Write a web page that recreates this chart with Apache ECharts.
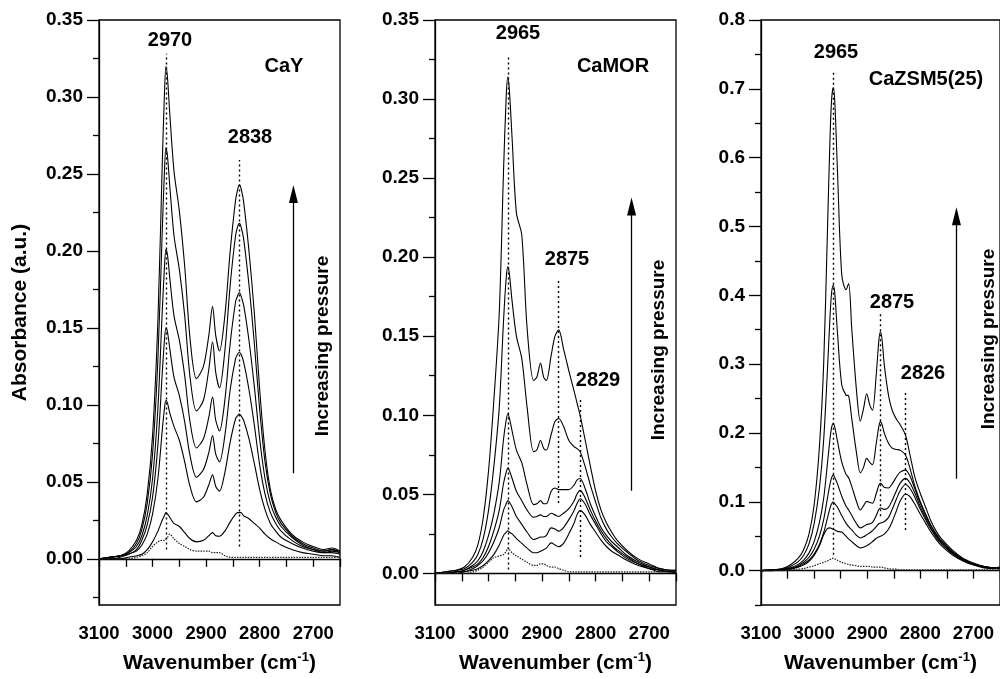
<!DOCTYPE html>
<html>
<head>
<meta charset="utf-8">
<script src="https://cdn.jsdelivr.net/npm/echarts@6/dist/echarts.min.js"></script>
<style>
html,body{margin:0;padding:0;background:#fff;}
#chart{width:1000px;height:679px;}
</style>
</head>
<body>
<div id="chart"></div>
<script>
// ---------- DATA ----------
const X_LABELS = [3100, 3000, 2900, 2800, 2700];
const X_TICKS = [3100, 3050, 3000, 2950, 2900, 2850, 2800, 2750, 2700, 2650];

// Panel 1: CaY
const CAY_WN = [3100,3080,3060,3045,3030,3020,3010,3000,2990,2982, 2978,2975,2972,2968,2960,2950,2940,2930,2918,2905, 2895,2888,2882,2875,2865,2855,2845,2841,2838,2835, 2830,2820,2810,2800,2790,2780,2770,2760,2740,2720, 2700,2680,2665,2650];
const CAY_6 = [0,0.001,0.002,0.005,0.012,0.022,0.042,0.080,0.155,0.255, 0.300,0.320,0.312,0.290,0.252,0.226,0.190,0.143,0.117,0.125, 0.145,0.164,0.145,0.135,0.158,0.200,0.233,0.240,0.243,0.241, 0.232,0.200,0.160,0.110,0.070,0.045,0.032,0.025,0.016,0.011, 0.008,0.006,0.007,0.005];
const CAY_5 = [0,0.001,0.002,0.004,0.010,0.019,0.036,0.068,0.130,0.212, 0.250,0.267,0.261,0.243,0.210,0.188,0.158,0.118,0.096,0.103, 0.123,0.141,0.121,0.111,0.135,0.178,0.210,0.216,0.218,0.216, 0.208,0.178,0.140,0.097,0.063,0.042,0.030,0.023,0.015,0.010, 0.007,0.005,0.006,0.005];
const CAY_4 = [0,0.001,0.002,0.004,0.008,0.015,0.028,0.052,0.098,0.160, 0.188,0.201,0.197,0.183,0.158,0.142,0.119,0.089,0.072,0.078, 0.092,0.105,0.090,0.083,0.103,0.140,0.167,0.171,0.173,0.171, 0.165,0.142,0.112,0.078,0.052,0.036,0.027,0.021,0.014,0.009, 0.006,0.005,0.006,0.004];
const CAY_3 = [0,0.001,0.002,0.003,0.006,0.012,0.022,0.040,0.074,0.120, 0.141,0.150,0.147,0.137,0.118,0.106,0.089,0.067,0.053,0.058, 0.069,0.080,0.068,0.063,0.080,0.110,0.130,0.133,0.134,0.133, 0.128,0.110,0.087,0.061,0.042,0.030,0.023,0.018,0.012,0.008, 0.006,0.004,0.005,0.004];
const CAY_2 = [0,0,0.001,0.003,0.005,0.009,0.016,0.029,0.052,0.083, 0.097,0.103,0.101,0.095,0.086,0.077,0.063,0.047,0.037,0.040, 0.048,0.0545,0.047,0.044,0.056,0.076,0.091,0.093,0.094,0.093, 0.090,0.078,0.062,0.045,0.032,0.023,0.018,0.014,0.010,0.007, 0.005,0.004,0.004,0.003];
const CAY_1 = [0,0,0,0.001,0.002,0.003,0.006,0.011,0.018,0.025, 0.028,0.030,0.029,0.027,0.023,0.021,0.017,0.013,0.011,0.012, 0.015,0.017,0.015,0.0147,0.018,0.024,0.029,0.030,0.030,0.030, 0.028,0.026,0.023,0.020,0.016,0.013,0.011,0.009,0.006,0.004, 0.003,0.002,0.002,0.001];
const CAY_REF = [0,0,0,0,0.001,0.002,0.004,0.008,0.011,0.012, 0.012,0.013,0.014,0.016,0.013,0.010,0.008,0.006,0.005,0.005, 0.005,0.004,0.004,0.004,0.002,0.001,0.001,0.001,0.001,0.001, 0.001,0.001,0.001,0.001,0.001,0.001,0.001,0.001,0.001,0.001, 0.001,0.001,0.001,0.001];
const CAY_Y_LABELS = [0, 0.05, 0.10, 0.15, 0.20, 0.25, 0.30, 0.35];
const CAY_Y_MINOR = [-0.025, 0.025, 0.075, 0.125, 0.175, 0.225, 0.275, 0.325];
// dotted guide lines: [wavenumber, from, to]
const CAY_GUIDES = [[2975, 0.006, 0.328], [2838, 0.008, 0.259]];
const CAY_ARROW = [2737, 0.0556, 0.237];

// Panel 2: CaMOR
const MOR_WN = [3100,3080,3060,3045,3030,3020,3010,3000,2990,2980, 2972,2967,2964,2961,2956,2948,2938,2928,2916,2910, 2903,2897,2892,2883,2876,2869,2860,2850,2840,2835, 2829,2820,2810,2800,2790,2780,2770,2760,2740,2720, 2700,2680,2660,2650];
const MOR_6 = [0,0.001,0.002,0.004,0.010,0.018,0.035,0.065,0.110,0.165, 0.255,0.302,0.314,0.305,0.275,0.228,0.214,0.155,0.122,0.124, 0.133,0.124,0.122,0.138,0.150,0.154,0.142,0.128,0.115,0.108, 0.100,0.085,0.068,0.052,0.040,0.032,0.026,0.021,0.014,0.009, 0.006,0.003,0.002,0.002];
const MOR_5 = [0,0.001,0.002,0.003,0.007,0.012,0.022,0.040,0.068,0.105, 0.160,0.187,0.194,0.189,0.172,0.150,0.136,0.105,0.077,0.078, 0.084,0.079,0.078,0.088,0.096,0.098,0.093,0.084,0.080,0.079, 0.077,0.068,0.056,0.045,0.035,0.028,0.023,0.019,0.013,0.008, 0.005,0.003,0.002,0.002];
const MOR_4 = [0,0,0.001,0.002,0.005,0.008,0.014,0.024,0.038,0.058, 0.085,0.097,0.101,0.098,0.090,0.078,0.070,0.056,0.0435,0.044, 0.046,0.044,0.044,0.052,0.054,0.053,0.053,0.053,0.056,0.059, 0.060,0.054,0.044,0.036,0.029,0.024,0.020,0.017,0.011,0.007, 0.004,0.002,0.001,0.001];
const MOR_3 = [0,0,0.001,0.002,0.004,0.006,0.010,0.017,0.027,0.040, 0.057,0.064,0.0666,0.065,0.060,0.052,0.046,0.040,0.0355,0.036, 0.037,0.036,0.036,0.038,0.037,0.036,0.038,0.041,0.046,0.050, 0.0525,0.048,0.040,0.033,0.027,0.022,0.018,0.015,0.010,0.006, 0.004,0.002,0.001,0.001];
const MOR_2 = [0,0,0.001,0.001,0.003,0.005,0.008,0.013,0.020,0.029, 0.040,0.044,0.046,0.045,0.042,0.036,0.031,0.026,0.0214,0.022, 0.023,0.023,0.024,0.0288,0.028,0.0267,0.029,0.034,0.040,0.044, 0.0472,0.044,0.037,0.031,0.025,0.020,0.017,0.014,0.009,0.006, 0.003,0.002,0.001,0.001];
const MOR_1 = [0,0,0,0.001,0.002,0.003,0.005,0.008,0.012,0.018, 0.024,0.026,0.027,0.026,0.025,0.022,0.019,0.016,0.013,0.013, 0.014,0.015,0.016,0.0193,0.018,0.0168,0.019,0.025,0.032,0.037, 0.0397,0.037,0.031,0.026,0.021,0.017,0.014,0.012,0.008,0.005, 0.003,0.001,0.001,0];
const MOR_REF = [0,0,0,0,0.001,0.002,0.004,0.007,0.010,0.011, 0.012,0.014,0.016,0.015,0.013,0.011,0.009,0.007,0.005,0.005, 0.006,0.006,0.005,0.004,0.004,0.003,0.002,0.001,0.001,0.001, 0.001,0.001,0.001,0.001,0.001,0.001,0.001,0.001,0.001,0.001, 0.001,0.001,0.001,0.001];
const MOR_Y_LABELS = [0, 0.05, 0.10, 0.15, 0.20, 0.25, 0.30, 0.35];
const MOR_Y_MINOR = [0.025, 0.075, 0.125, 0.175, 0.225, 0.275, 0.325];
const MOR_GUIDES = [[2964, 0.0025, 0.327], [2869, 0.0445, 0.1866], [2828.5, 0.0103, 0.1096]];
const MOR_ARROW = [2733, 0.0523, 0.232];

// Panel 3: CaZSM5(25)
const ZSM_WN = [3100,3080,3060,3045,3030,3020,3010,3000,2990,2982, 2975,2970,2967,2964,2961,2956,2948,2940,2935,2929, 2920,2913,2907,2901,2895,2890,2883,2878,2875,2872, 2868,2860,2853,2845,2838,2828,2820,2810,2800,2790, 2780,2770,2760,2740,2720,2700,2680,2660,2650];
const ZSM_6 = [0,0.001,0.003,0.008,0.018,0.030,0.052,0.095,0.180,0.300, 0.490,0.630,0.685,0.702,0.680,0.580,0.430,0.408,0.417,0.350, 0.260,0.217,0.235,0.257,0.240,0.233,0.285,0.335,0.347,0.335, 0.300,0.255,0.233,0.220,0.212,0.197,0.170,0.135,0.112,0.092, 0.072,0.057,0.046,0.030,0.018,0.011,0.006,0.004,0.005];
const ZSM_5 = [0,0.001,0.002,0.006,0.013,0.022,0.038,0.068,0.120,0.190, 0.290,0.370,0.404,0.4145,0.402,0.345,0.270,0.255,0.254,0.220, 0.170,0.142,0.150,0.163,0.157,0.154,0.185,0.210,0.2165,0.212, 0.200,0.185,0.178,0.176,0.175,0.168,0.150,0.122,0.100,0.082, 0.066,0.053,0.043,0.028,0.017,0.010,0.006,0.004,0.004];
const ZSM_4 = [0,0.001,0.002,0.004,0.009,0.015,0.025,0.042,0.070,0.105, 0.155,0.192,0.208,0.214,0.208,0.188,0.158,0.140,0.135,0.122, 0.100,0.088,0.094,0.1006,0.099,0.098,0.112,0.124,0.127,0.125, 0.121,0.120,0.126,0.136,0.143,0.146,0.138,0.118,0.098,0.081, 0.065,0.052,0.042,0.027,0.016,0.010,0.006,0.004,0.004];
const ZSM_3 = [0,0.001,0.002,0.003,0.007,0.012,0.019,0.031,0.050,0.074, 0.105,0.126,0.135,0.139,0.135,0.126,0.108,0.094,0.088,0.080, 0.068,0.062,0.064,0.067,0.068,0.070,0.080,0.089,0.091,0.090, 0.089,0.092,0.102,0.116,0.127,0.134,0.128,0.112,0.093,0.077, 0.062,0.050,0.040,0.026,0.016,0.009,0.005,0.004,0.004];
const ZSM_2 = [0,0.001,0.001,0.003,0.006,0.010,0.015,0.024,0.038,0.055, 0.076,0.091,0.097,0.0996,0.097,0.092,0.080,0.069,0.064,0.059, 0.051,0.0474,0.049,0.052,0.055,0.058,0.064,0.068,0.069,0.070, 0.071,0.077,0.089,0.104,0.116,0.125,0.120,0.106,0.089,0.074, 0.060,0.048,0.039,0.025,0.015,0.009,0.005,0.003,0.003];
const ZSM_1 = [0,0,0.001,0.002,0.005,0.008,0.013,0.022,0.036,0.052, 0.061,0.062,0.061,0.060,0.059,0.057,0.056,0.050,0.046,0.042, 0.036,0.033,0.034,0.036,0.039,0.042,0.047,0.049,0.050,0.051, 0.053,0.060,0.071,0.087,0.101,0.111,0.108,0.096,0.082,0.069, 0.056,0.045,0.036,0.023,0.014,0.008,0.004,0.003,0.003];
const ZSM_REF = [0,0,0,0.001,0.002,0.003,0.005,0.007,0.010,0.012, 0.014,0.016,0.017,0.018,0.017,0.015,0.012,0.010,0.009,0.008, 0.007,0.006,0.006,0.006,0.006,0.005,0.005,0.005,0.005,0.005, 0.004,0.003,0.002,0.002,0.001,0.001,0.001,0.001,0.001,0.001, 0.001,0.001,0.001,0.001,0.001,0.001,0.001,0.001,0.001];
const ZSM_Y_LABELS = [0, 0.1, 0.2, 0.3, 0.4, 0.5, 0.6, 0.7, 0.8];
const ZSM_Y_MINOR = [-0.05, 0.05, 0.15, 0.25, 0.35, 0.45, 0.55, 0.65, 0.75];
const ZSM_GUIDES = [[2964, 0.023, 0.726], [2875.7, 0.079, 0.3735], [2827.7, 0.059, 0.262]];
const ZSM_ARROW = [2732, 0.1333, 0.515];

// ---------- LAYOUT ----------
const FONT = '"Liberation Sans", Arial, Helvetica, sans-serif';
const panels = [
  {wn: CAY_WN, curves: [CAY_1, CAY_2, CAY_3, CAY_4, CAY_5, CAY_6], ref: CAY_REF, ymin: -0.03, ymax: 0.35,
   yl: CAY_Y_LABELS, ym: CAY_Y_MINOR, dig: 2, guides: CAY_GUIDES, arrow: CAY_ARROW,
   grid: {left: 99, top: 20, width: 241, height: 587}},
  {wn: MOR_WN, curves: [MOR_1, MOR_2, MOR_3, MOR_4, MOR_5, MOR_6], ref: MOR_REF, ymin: -0.02, ymax: 0.35,
   yl: MOR_Y_LABELS, ym: MOR_Y_MINOR, dig: 2, guides: MOR_GUIDES, arrow: MOR_ARROW,
   grid: {left: 435, top: 20, width: 241, height: 587}},
  {wn: ZSM_WN, curves: [ZSM_1, ZSM_2, ZSM_3, ZSM_4, ZSM_5, ZSM_6], ref: ZSM_REF, ymin: -0.05, ymax: 0.8,
   yl: ZSM_Y_LABELS, ym: ZSM_Y_MINOR, dig: 1, guides: ZSM_GUIDES, arrow: ZSM_ARROW,
   grid: {left: 761, top: 20, width: 241, height: 587}}
];

const texts = [
  {t: '2970', x: 170, y: 40}, {t: '2838', x: 250, y: 137}, {t: 'CaY', x: 284, y: 66},
  {t: '2965', x: 518, y: 33}, {t: '2875', x: 567, y: 259}, {t: '2829', x: 598, y: 380}, {t: 'CaMOR', x: 613, y: 66},
  {t: '2965', x: 836, y: 52}, {t: '2875', x: 892, y: 302}, {t: '2826', x: 923, y: 373}, {t: 'CaZSM5(25)', x: 926, y: 79}
];
const vtexts = [
  {t: 'Increasing pressure', x: 323, y: 346},
  {t: 'Increasing pressure', x: 659, y: 350},
  {t: 'Increasing pressure', x: 989, y: 339}
];

const black = '#000';
const grids = [], xAxes = [], yAxes = [], series = [];

panels.forEach((p, i) => {
  grids.push(Object.assign({show: true, borderColor: black, borderWidth: 1.3, backgroundColor: 'transparent'}, p.grid));
  xAxes.push({
    type: 'value', gridIndex: i, min: 2650, max: 3100, inverse: true,
    axisLine: {show: true, lineStyle: {color: black, width: 1.3}},
    axisTick: {show: true, customValues: X_TICKS, length: 8, inside: false, lineStyle: {color: black, width: 1.3}},
    axisLabel: {customValues: X_LABELS, margin: 19, color: black, fontFamily: FONT, fontWeight: 'bold', fontSize: 18.5,
      formatter: v => String(Math.round(v))},
    splitLine: {show: false},
    name: '{a|Wavenumber (cm}{s|-1}{a|)}', nameLocation: 'middle', nameGap: 46,
    nameTextStyle: {rich: {
      a: {fontFamily: FONT, fontWeight: 'bold', fontSize: 21, color: black, lineHeight: 24},
      s: {fontFamily: FONT, fontWeight: 'bold', fontSize: 13, color: black, lineHeight: 24, verticalAlign: 'top', padding: [0, 0, 10, 0]}
    }}
  });
  yAxes.push({
    type: 'value', gridIndex: i, min: p.ymin, max: p.ymax, position: 'left',
    axisLine: {show: true, lineStyle: {color: black, width: 1.3}},
    axisTick: {show: true, customValues: p.yl, length: 12, lineStyle: {color: black, width: 1.3}},
    axisLabel: {customValues: p.yl, margin: 16, color: black, fontFamily: FONT, fontWeight: 'bold', fontSize: 19,
      formatter: v => Number(v).toFixed(p.dig)},
    splitLine: {show: false},
    name: i === 0 ? 'Absorbance (a.u.)' : '', nameLocation: 'middle', nameGap: 68, nameRotate: 90,
    nameTextStyle: {fontFamily: FONT, fontWeight: 'bold', fontSize: 21, color: black}
  });
  yAxes.push({
    type: 'value', gridIndex: i, min: p.ymin, max: p.ymax, position: 'left',
    axisLine: {show: false},
    axisTick: {show: true, customValues: p.ym, length: 6, lineStyle: {color: black, width: 1.3}},
    axisLabel: {show: false},
    splitLine: {show: false}
  });
  p.curves.forEach(c => {
    series.push({
      type: 'line', xAxisIndex: i, yAxisIndex: 2 * i, data: p.wn.map((w, k) => [w, c[k]]),
      symbol: 'none', smooth: 0.3, silent: true, animation: false,
      lineStyle: {color: black, width: 1.1}
    });
  });
  series.push({
    type: 'line', xAxisIndex: i, yAxisIndex: 2 * i, data: p.wn.map((w, k) => [w, p.ref[k]]),
    symbol: 'none', smooth: 0.3, silent: true, animation: false,
    lineStyle: {color: '#222', width: 1.2, type: [1.5, 1.2]},
    markLine: {
      silent: true, animation: false, symbol: ['none', 'none'], label: {show: false},
      lineStyle: {color: black, width: 1.4, type: [2, 3]},
      data: p.guides.map(g => [{coord: [g[0], g[1]]}, {coord: [g[0], g[2]]}])
        .concat([[{coord: [p.arrow[0], p.arrow[1]], lineStyle: {type: 'solid', width: 1.3}},
                  {coord: [p.arrow[0], p.arrow[2]], symbol: 'triangle', symbolSize: [9, 18]}]])
    }
  });
});

const graphic = [];
texts.forEach(o => graphic.push({
  type: 'text', x: o.x, y: o.y, silent: true,
  style: {text: o.t, font: 'bold 20px ' + FONT, fill: black, textAlign: 'center', textVerticalAlign: 'middle', align: 'center', verticalAlign: 'middle'}
}));
vtexts.forEach(o => graphic.push({
  type: 'text', x: o.x, y: o.y, rotation: Math.PI / 2, silent: true,
  style: {text: o.t, font: 'bold 19px ' + FONT, fill: black, textAlign: 'center', textVerticalAlign: 'middle', align: 'center', verticalAlign: 'middle'}
}));

const chart = echarts.init(document.getElementById('chart'), null, {renderer: 'canvas'});
chart.setOption({
  animation: false,
  backgroundColor: '#fff',
  grid: grids, xAxis: xAxes, yAxis: yAxes, series: series, graphic: graphic
});
</script>
</body>
</html>
